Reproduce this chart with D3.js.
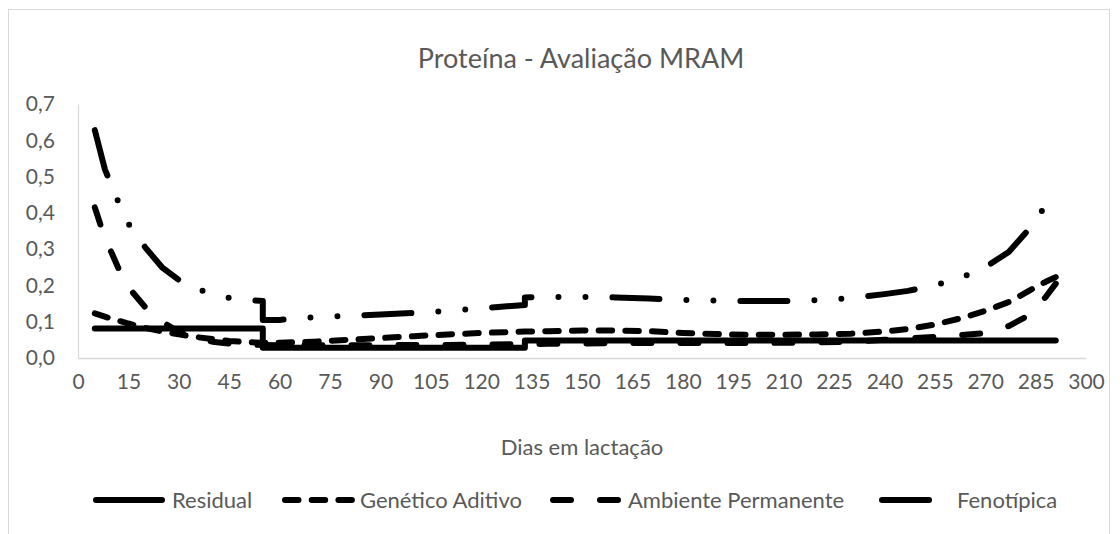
<!DOCTYPE html>
<html>
<head>
<meta charset="utf-8">
<script src="https://cdn.jsdelivr.net/npm/d3@7"></script>
<style>
  html, body { margin: 0; padding: 0; background: #fff; }
  svg { display: block; }
  text { font-family: Lato, "Open Sans", sans-serif; fill: #595959; }
</style>
</head>
<body>
<svg id="chart" width="1120" height="534"></svg>
<script>
// ---- Data ----
const days = [5,8,10,12,15,20,25,30,35,40,45,50,55,55,60,70,80,90,100,110,120,130,133,133,140,150,160,170,180,190,200,210,220,230,240,247,255,263,270,277,283,288,291];
const residual = [0.081,0.081,0.081,0.081,0.081,0.081,0.081,0.081,0.081,0.081,0.081,0.081,0.081,0.028,0.028,0.028,0.028,0.028,0.028,0.028,0.028,0.028,0.028,0.048,0.048,0.048,0.048,0.048,0.048,0.048,0.048,0.048,0.048,0.048,0.048,0.048,0.048,0.048,0.048,0.048,0.048,0.048,0.048];
const geneticoAditivo = [0.123,0.114,0.108,0.103,0.095,0.083,0.073,0.065,0.058,0.052,0.047,0.044,0.042,0.042,0.042,0.045,0.050,0.055,0.060,0.065,0.069,0.072,0.073,0.073,0.074,0.076,0.076,0.074,0.069,0.066,0.064,0.064,0.065,0.067,0.073,0.080,0.092,0.110,0.130,0.154,0.185,0.210,0.223];
const ambientePermanente = [0.415,0.330,0.290,0.248,0.195,0.140,0.100,0.072,0.055,0.045,0.040,0.037,0.036,0.036,0.035,0.035,0.035,0.035,0.036,0.036,0.037,0.038,0.038,0.038,0.039,0.040,0.041,0.041,0.041,0.041,0.041,0.042,0.043,0.045,0.050,0.054,0.058,0.063,0.069,0.088,0.118,0.168,0.205];
const fenotipica = [0.628,0.520,0.475,0.430,0.370,0.305,0.250,0.215,0.192,0.176,0.166,0.160,0.157,0.105,0.105,0.112,0.116,0.120,0.124,0.130,0.137,0.144,0.146,0.167,0.168,0.168,0.167,0.164,0.160,0.158,0.157,0.157,0.159,0.165,0.176,0.185,0.200,0.222,0.250,0.292,0.355,0.420,0.445];

const seriesNames = ["Residual", "Genético Aditivo", "Ambiente Permanente", "Fenotípica"];
const xTickValues = [0,15,30,45,60,75,90,105,120,135,150,165,180,195,210,225,240,255,270,285,300];
const yTickValues = [0,0.1,0.2,0.3,0.4,0.5,0.6,0.7];
const titleText = "Proteína - Avaliação MRAM";
const xAxisTitle = "Dias em lactação";

// ---- Layout / style ----
const svg = d3.select("#chart");
const x = d3.scaleLinear().domain([0, 300]).range([78, 1086]);
const y = d3.scaleLinear().domain([0, 0.7]).range([358, 104]);
const fmt = v => d3.format(".1f")(v).replace(".", ",");
const lineW = 6;
const dashes = ["none", "13.5,13.2", "18,29", "47,27,0,27,0,27"];
const seriesValues = [residual, geneticoAditivo, ambientePermanente, fenotipica];

// chart border
svg.append("rect").attr("x", 8.5).attr("y", 9.5).attr("width", 1101).attr("height", 540)
  .attr("fill", "none").attr("stroke", "#d9d9d9").attr("stroke-width", 1);

// title
svg.append("text").attr("x", 581).attr("y", 68).attr("text-anchor", "middle")
  .style("font-size", "27px").text(titleText);

// x axis
const xAxis = svg.append("g").attr("transform", `translate(0,${y(0)})`)
  .call(d3.axisBottom(x).tickValues(xTickValues).tickSize(0).tickPadding(16).tickFormat(d3.format("d")));
xAxis.select(".domain").attr("stroke", "#d9d9d9").attr("stroke-width", 1.3);
xAxis.selectAll("text").style("font-size", "21px").style("font-family", "Lato, sans-serif").attr("fill", "#595959");

// y axis
const yAxis = svg.append("g").attr("transform", `translate(${x(0)},0)`)
  .call(d3.axisLeft(y).tickValues(yTickValues).tickSize(0).tickPadding(23).tickFormat(fmt));
yAxis.select(".domain").attr("stroke", "#d9d9d9").attr("stroke-width", 1.3);
yAxis.selectAll("text").style("font-size", "21px").style("font-family", "Lato, sans-serif").attr("fill", "#595959");

// axis title
svg.append("text").attr("x", 582).attr("y", 455).attr("text-anchor", "middle")
  .style("font-size", "22px").text(xAxisTitle);

// lines
const line = d3.line().x((d, i) => x(days[i])).y(d => y(d)).curve(d3.curveLinear);
seriesValues.forEach((vals, k) => {
  svg.append("path").datum(vals)
    .attr("d", line)
    .attr("fill", "none").attr("stroke", "#000").attr("stroke-width", lineW)
    .attr("stroke-linecap", "round").attr("stroke-linejoin", "round")
    .attr("stroke-dasharray", dashes[k]);
});

// legend
const legendItems = [
  { x0: 96, x1: 162, tx: 172 },
  { x0: 285, x1: 352, tx: 360 },
  { x0: 553, x1: 620, tx: 628 },
  { x0: 882, x1: 950, tx: 957 }
];
const ly = 500;
legendItems.forEach((it, k) => {
  svg.append("line").attr("x1", it.x0).attr("x2", it.x1).attr("y1", ly).attr("y2", ly)
    .attr("stroke", "#000").attr("stroke-width", lineW).attr("stroke-linecap", "round")
    .attr("stroke-dasharray", dashes[k]);
  svg.append("text").attr("x", it.tx).attr("y", ly).attr("dy", "0.35em")
    .style("font-size", "22px").text(seriesNames[k]);
});
</script>
</body>
</html>
